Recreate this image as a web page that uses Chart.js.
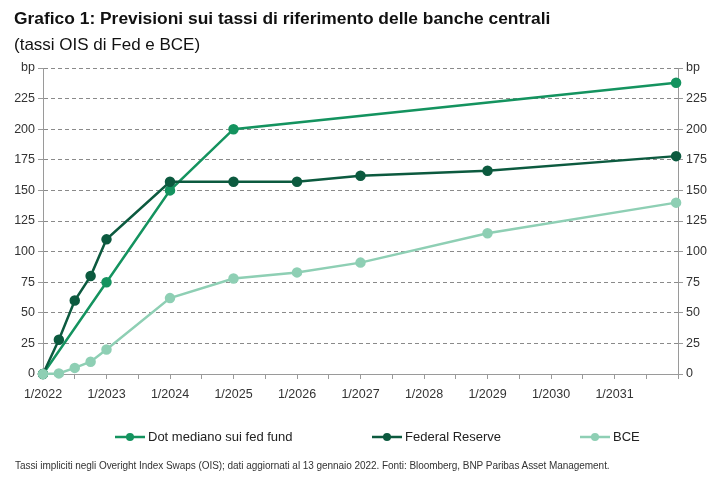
<!DOCTYPE html>
<html>
<head>
<meta charset="utf-8">
<script src="https://cdn.jsdelivr.net/npm/chart.js@4/dist/chart.umd.min.js"></script>
<style>
  html, body { margin: 0; padding: 0; background: #fff; }
  body { width: 725px; height: 487px; position: relative; overflow: hidden; font-family: "Liberation Sans", Arial, sans-serif; }
  #wrap { position: absolute; left: 0; top: 0; width: 725px; height: 487px; }
  .title { position: absolute; left: 14px; top: 8px; font-size: 17.4px; font-weight: bold; color: #111; white-space: nowrap; }
  .subtitle { position: absolute; left: 14px; top: 35px; font-size: 17px; color: #111; white-space: nowrap; }
  .footer { position: absolute; left: 15px; top: 460px; font-size: 10px; color: #333; white-space: nowrap; letter-spacing: -0.05px; }
  .legend-item { position: absolute; top: 429px; display: flex; align-items: center; font-size: 13px; color: #222; white-space: nowrap; }
  .legend-item canvas { margin-right: 3px; }
</style>
</head>
<body>
<div id="wrap"><canvas id="myChart" width="725" height="487"></canvas></div>
<div class="title">Grafico 1: Previsioni sui tassi di riferimento delle banche centrali</div>
<div class="subtitle">(tassi OIS di Fed e BCE)</div>
<div id="legend"></div>
<div class="footer">Tassi impliciti negli Overight Index Swaps (OIS); dati aggiornati al 13 gennaio 2022. Fonti: Bloomberg, BNP Paribas Asset Management.</div>
<script>
// series names
const seriesNames = ['Dot mediano sui fed fund', 'Federal Reserve', 'BCE'];

// dates as decimal years
const dotDates = [2022, 2023, 2024, 2025, 2031.97];
const fedDates = [2022, 2022.25, 2022.5, 2022.75, 2023, 2024, 2025, 2026, 2027, 2029, 2031.97];
const bceDates = [2022, 2022.25, 2022.5, 2022.75, 2023, 2024, 2025, 2026, 2027, 2029, 2031.97];

// values in basis points
const dotValues = [0, 75, 150, 200, 238];
const fedValues = [0, 28, 60, 80, 110, 157, 157, 157, 162, 166, 178];
const bceValues = [0, 0.5, 5, 10, 20, 62, 78, 83, 91, 115, 140];

// x tick labels (one per year)
const yearLabels = ['1/2022', '1/2023', '1/2024', '1/2025', '1/2026', '1/2027', '1/2028', '1/2029', '1/2030', '1/2031'];

const colors = ['#14935f', '#0c5a3f', '#8ecfb4'];
const legendLeft = [115, 372, 580];

const toPoints = (xs, ys) => xs.map((x, i) => ({ x: x, y: ys[i] }));

const tickFont = { family: '"Liberation Sans", Arial, sans-serif', size: 12.5 };

// BCE drawn on top, then Fed, then the dot plot
const mkSet = (i, pts) => ({
  label: seriesNames[i],
  data: pts,
  order: 2 - i,
  borderColor: colors[i],
  backgroundColor: colors[i],
  pointBackgroundColor: colors[i],
  pointBorderColor: colors[i],
  borderWidth: 2.5,
  pointRadius: 4,
  pointHoverRadius: 4,
  tension: 0,
  clip: false,
});

const data = {
  datasets: [
    mkSet(0, toPoints(dotDates, dotValues)),
    mkSet(1, toPoints(fedDates, fedValues)),
    mkSet(2, toPoints(bceDates, bceValues)),
  ]
};

const yTick = v => (v === 250 ? 'bp' : v);

const config = {
  type: 'line',
  data: data,
  options: {
    responsive: false,
    animation: false,
    layout: { padding: { top: 68, bottom: 0, left: 0, right: 0 } },
    plugins: {
      legend: { display: false },
      tooltip: { enabled: false },
    },
    scales: {
      x: {
        type: 'linear',
        min: 2022,
        max: 2032,
        afterFit: s => { s.height = 113; },
        afterBuildTicks: s => {
          const t = [];
          for (let i = 0; i <= 20; i++) t.push({ value: 2022 + i / 2 });
          s.ticks = t;
        },
        ticks: {
          autoSkip: false,
          maxRotation: 0,
          padding: 8,
          color: '#333',
          font: tickFont,
          callback: v => {
            const k = Math.round((v - 2022) * 2);
            return k % 2 === 0 ? (yearLabels[k / 2] || '') : '';
          },
        },
        grid: { drawOnChartArea: false, drawTicks: true, tickLength: 5, color: '#9a9a9a' },
        border: { color: '#9a9a9a', width: 1 },
      },
      y: {
        position: 'left',
        min: 0,
        max: 250,
        afterFit: s => { s.width = 43; },
        ticks: { stepSize: 25, padding: 3, color: '#333', font: tickFont, callback: yTick },
        grid: { color: '#8a8a8a', tickLength: 5, lineWidth: 1, tickColor: '#9a9a9a' },
        border: { color: '#9a9a9a', width: 1, dash: [4, 3] },
      },
      y2: {
        position: 'right',
        min: 0,
        max: 250,
        afterFit: s => { s.width = 47; },
        ticks: { stepSize: 25, padding: 3, color: '#333', font: tickFont, callback: yTick },
        grid: { drawOnChartArea: false, tickLength: 5, color: '#9a9a9a' },
        border: { color: '#9a9a9a', width: 1 },
      },
    },
  },
};

const ctx = document.getElementById('myChart').getContext('2d');
const myChart = new Chart(ctx, config);

// legend built from the datasets
const legend = document.getElementById('legend');
myChart.data.datasets.forEach((ds, i) => {
  const item = document.createElement('div');
  item.className = 'legend-item';
  item.style.left = legendLeft[i] + 'px';
  const c = document.createElement('canvas');
  c.width = 30; c.height = 12;
  const g = c.getContext('2d');
  g.strokeStyle = ds.borderColor;
  g.fillStyle = ds.borderColor;
  g.lineWidth = 2.5;
  g.beginPath(); g.moveTo(0, 6); g.lineTo(30, 6); g.stroke();
  g.beginPath(); g.arc(15, 6, 4, 0, Math.PI * 2); g.fill();
  item.appendChild(c);
  const span = document.createElement('span');
  span.textContent = ds.label;
  item.appendChild(span);
  legend.appendChild(item);
});
</script>
</body>
</html>
